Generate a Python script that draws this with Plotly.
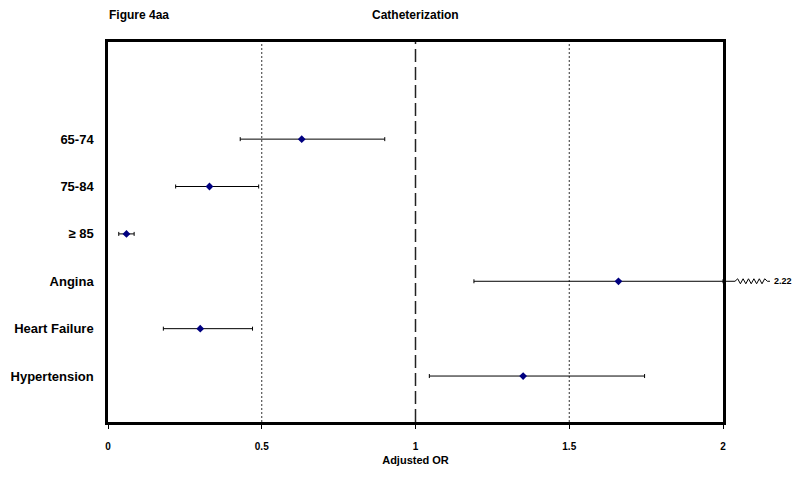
import plotly.graph_objects as go

# ---- data ----
categories = ["65-74", "75-84", "≥ 85", "Angina", "Heart Failure", "Hypertension"]
or_vals = [0.63, 0.33, 0.06, 1.66, 0.30, 1.35]
ci_low = [0.43, 0.22, 0.035, 1.19, 0.18, 1.045]
ci_high = [0.90, 0.49, 0.085, 2.22, 0.47, 1.745]
x_ticks = [0, 0.5, 1, 1.5, 2]
x_tick_labels = ["0", "0.5", "1", "1.5", "2"]
dotted_refs = [0.5, 1.5]
null_ref = 1.0

x_min, x_max = 0, 2
n = len(categories)
ypos = [n - 1 - i for i in range(n)]
y_range = [-0.97, 7.05]

err_plus = [min(h, x_max) - v for h, v in zip(ci_high, or_vals)]
err_minus = [v - l for l, v in zip(ci_low, or_vals)]

FONT = "Liberation Sans, Arial, sans-serif"

fig = go.Figure()
fig.add_trace(go.Scatter(
    x=or_vals, y=ypos, mode="markers",
    marker=dict(symbol="diamond", size=6, color="#000080"),
    error_x=dict(type="data", array=err_plus, arrayminus=err_minus,
                 color="black", thickness=1, width=2),
    showlegend=False, hoverinfo="skip",
))

shapes = []
for xv in dotted_refs:
    shapes.append(dict(type="line", xref="x", yref="paper", x0=xv, x1=xv, y0=0, y1=1,
                       line=dict(color="#333333", width=1, dash="2px,2px"), layer="below"))
shapes.append(dict(type="line", xref="x", yref="paper", x0=null_ref, x1=null_ref, y0=0, y1=1,
                   line=dict(color="#222222", width=1.5, dash="13px,5px"), layer="below"))

# broken-axis zigzag for CIs beyond the axis maximum
px = 1.0 / 615.0
dy = 2.5 / 47.4
for h, yv in zip(ci_high, ypos):
    if h > x_max:
        pts = [(1.0, yv), (1.0 + 12 * px, yv)]
        xs = 1.0 + 12 * px
        for k in range(12):
            xs += 2.7 * px
            pts.append((xs, yv + (dy if k % 2 == 0 else -dy) * (0 if k == 11 else 1)))
        pts.append((1.0 + 47 * px, yv))
        path = "M " + " L ".join(f"{a:.5f},{b:.5f}" for a, b in pts)
        shapes.append(dict(type="path", xref="paper", yref="y", path=path,
                           line=dict(color="black", width=1)))
        fig.add_annotation(xref="paper", yref="y", x=1.0 + 49 * px, y=yv,
                           text=f"<b>{h:.2f}</b>", showarrow=False, xanchor="left",
                           font=dict(family=FONT, size=9, color="black"))

fig.add_annotation(xref="paper", yref="paper", x=-0.002, y=1.072, xanchor="left", yanchor="middle",
                   text="<b>Figure 4aa</b>", showarrow=False,
                   font=dict(family=FONT, size=12, color="black"))
fig.add_annotation(xref="paper", yref="paper", x=0.5, y=1.072, xanchor="center", yanchor="middle",
                   text="<b>Catheterization</b>", showarrow=False,
                   font=dict(family=FONT, size=12, color="black"))

fig.update_layout(
    width=800, height=482,
    margin=dict(l=108, r=77, t=42, b=60),
    paper_bgcolor="white", plot_bgcolor="white",
    shapes=shapes,
    font=dict(family=FONT, color="black"),
    xaxis=dict(range=[x_min, x_max], tickvals=x_ticks, ticktext=[f"<b>{t}</b>" for t in x_tick_labels],
               showgrid=False, zeroline=False, showline=True, mirror=True, automargin=False,
               linecolor="black", linewidth=2.5, ticks="outside", ticklen=4, tickwidth=1,
               tickcolor="black", tickfont=dict(family=FONT, size=10), ticklabelstandoff=9,
               title=dict(text="<b>Adjusted OR</b>", font=dict(family=FONT, size=11), standoff=6)),
    yaxis=dict(range=y_range, tickvals=ypos, ticktext=[f"<b>{c}</b>" for c in categories],
               showgrid=False, zeroline=False, showline=True, mirror=True, automargin=False,
               linecolor="black", linewidth=2.5, ticks="", ticklabelstandoff=9,
               tickfont=dict(family=FONT, size=13)),
)

fig.write_html("out.html", config={"displayModeBar": False},
               post_script="document.body.style.margin='0';document.body.style.padding='0';")
